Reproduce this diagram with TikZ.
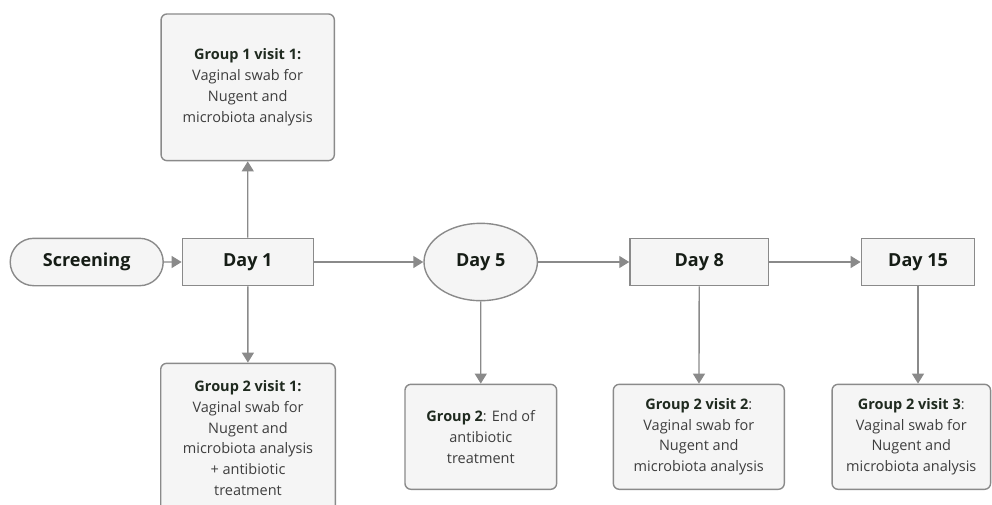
\documentclass[tikz,border=0pt]{standalone}
\usepackage{fontspec}
\setmainfont{Open Sans}
\usetikzlibrary{shapes.misc,shapes.geometric,arrows.meta}
\definecolor{linegray}{HTML}{8A8A8A}
\definecolor{boxfill}{HTML}{F5F5F5}
\definecolor{headcol}{HTML}{1F2A1F}
\definecolor{bodycol}{HTML}{3E3E3E}
\newcommand{\hd}[1]{\textcolor{headcol}{\bfseries #1}}
\tikzset{
  daybox/.style={draw=linegray, fill=boxfill, line width=1.4pt, inner sep=0pt,
    minimum height=47.4pt, text=headcol!70!black,
    font=\fontsize{18}{22}\selectfont\bfseries},
  notebox/.style={draw=linegray, fill=boxfill, line width=1.4pt, inner sep=0pt,
    rounded corners=6pt, align=center, text=bodycol,
    font=\fontsize{14.5}{20.8}\selectfont},
  flow/.style={draw=linegray, line width=1.4pt, -{Triangle[length=10pt,width=12pt]}}
}
\begin{document}
\begin{tikzpicture}[x=1pt,y=-1pt]
\useasboundingbox (0,0) rectangle (992,504);
\clip (0,0) rectangle (992,504);
\path node[daybox, rounded rectangle, minimum width=153pt] (S) at (86.7,262) {Screening}
node[daybox, minimum width=131pt] (D1) at (247.8,262) {Day 1}
node[daybox, ellipse, minimum width=113.4pt, minimum height=77.4pt] (D5) at (480.7,262) {Day 5}
node[daybox, minimum width=138.7pt] (D8) at (699.3,262) {Day 8}
node[daybox, minimum width=113.4pt] (D15) at (918,262) {Day 15}
node[notebox, minimum width=173.3pt, minimum height=146.7pt] (G1V1) at (247.7,87.3)
  {\hd{Group 1 visit 1:}\\Vaginal swab for\\Nugent and\\microbiota analysis}
node[notebox, minimum width=174.6pt, minimum height=149.4pt] (G2V1) at (248,438)
  {\hd{Group 2 visit 1:}\\Vaginal swab for\\Nugent and\\microbiota analysis\\+ antibiotic\\treatment}
node[notebox, minimum width=151.7pt, minimum height=105pt] (G2E) at (480.8,436.8)
  {\hd{Group 2}: End of\\antibiotic\\treatment}
node[notebox, minimum width=171pt, minimum height=105pt] (G2V2) at (698.8,436.8)
  {\hd{Group 2 visit 2}:\\Vaginal swab for\\Nugent and\\microbiota analysis}
node[notebox, minimum width=158.5pt, minimum height=105pt] (G2V3) at (911.3,436.8)
  {\hd{Group 2 visit 3}:\\Vaginal swab for\\Nugent and\\microbiota analysis}
;
\draw[flow] (S) -- (D1);
\draw[flow] (D1) -- (D5);
\draw[flow] (D5) -- (D8);
\draw[flow] (D8) -- (D15);
\draw[flow] (D1) -- (G1V1);
\draw[flow] (D1) -- (G2V1);
\draw[flow] (D5) -- (G2E);
\draw[flow] (D8) -- (G2V2);
\draw[flow] (D15.south) -- (D15.south |- G2V3.north);
\end{tikzpicture}
\end{document}
